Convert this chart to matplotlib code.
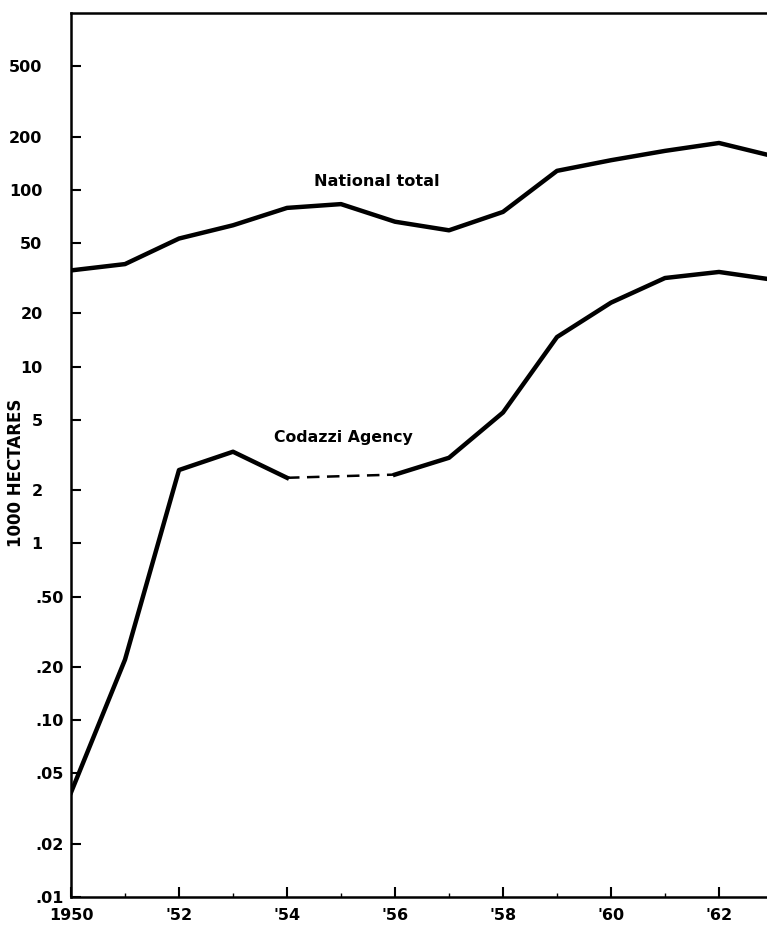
import matplotlib
matplotlib.use("Agg")
import matplotlib.pyplot as plt
from matplotlib.ticker import FixedLocator, NullFormatter

years = [1950, 1951, 1952, 1953, 1954, 1955, 1956, 1957, 1958, 1959, 1960, 1961, 1962, 1963]
national = [35, 38, 53, 63, 79, 83, 66, 59, 75, 128, 147, 166, 184, 155]

codazzi_years_a = [1950, 1951, 1952, 1953, 1954]
codazzi_a = [0.039, 0.22, 2.6, 3.3, 2.35]
codazzi_years_gap = [1954, 1956]
codazzi_gap = [2.35, 2.45]
codazzi_years_b = [1956, 1957, 1958, 1959, 1960, 1961, 1962, 1963]
codazzi_b = [2.45, 3.05, 5.5, 14.7, 23, 31.7, 34.3, 31]

ytick_vals = [500, 200, 100, 50, 20, 10, 5, 2, 1, 0.5, 0.2, 0.1, 0.05, 0.02, 0.01]
ytick_labels = ["500", "200", "100", "50", "20", "10", "5", "2", "1",
                ".50", ".20", ".10", ".05", ".02", ".01"]
xtick_vals = [1950, 1952, 1954, 1956, 1958, 1960, 1962]
xtick_labels = ["1950", "'52", "'54", "'56", "'58", "'60", "'62"]

W, H = 767, 927
fig = plt.figure(figsize=(W / 100, H / 100), dpi=100)
ax = fig.add_axes([71 / W, 30 / H, 702 / W, 884 / H])

ax.plot(years, national, color="black", lw=3.2)
ax.plot(codazzi_years_a, codazzi_a, color="black", lw=3.2)
ax.plot(codazzi_years_gap, codazzi_gap, color="black", lw=1.8, dashes=(5, 3))
ax.plot(codazzi_years_b, codazzi_b, color="black", lw=3.2)

ax.set_yscale("log")
ax.set_ylim(0.01, 1000)
ax.set_xlim(1950, 1963)

ax.set_yticks(ytick_vals)
ax.set_yticklabels(ytick_labels)
ax.yaxis.set_minor_formatter(NullFormatter())
ax.yaxis.set_minor_locator(FixedLocator([]))
ax.set_xticks(xtick_vals)
ax.set_xticklabels(xtick_labels)
ax.set_xticks([1951, 1953, 1955, 1957, 1959, 1961], minor=True)

for lab in ax.get_yticklabels() + ax.get_xticklabels():
    lab.set_fontweight("bold")
    lab.set_fontsize(11.5)

ax.tick_params(axis="both", which="major", direction="in", length=7, width=1.5, pad=8)
ax.tick_params(axis="x", which="minor", direction="in", length=3, width=1)

# integer labels sit further left than decimal labels
for tick, lab in zip(ax.yaxis.get_major_ticks(), ytick_labels):
    tick.set_pad(5.5 if lab.startswith(".") else 20.5)

for s in ["left", "bottom", "top"]:
    ax.spines[s].set_linewidth(1.8)
ax.spines["right"].set_visible(False)

ax.set_ylabel("1000 HECTARES", fontsize=12, fontweight="bold")
ax.yaxis.set_label_coords((25 - 71) / 702, (897 - 473) / 884)

ax.text(1955.67, 111, "National total", ha="center", va="center",
        fontsize=11.6, fontweight="bold")
ax.text(1955.05, 3.95, "Codazzi Agency", ha="center", va="center",
        fontsize=11.3, fontweight="bold")

fig.savefig("out.png", dpi=100)
